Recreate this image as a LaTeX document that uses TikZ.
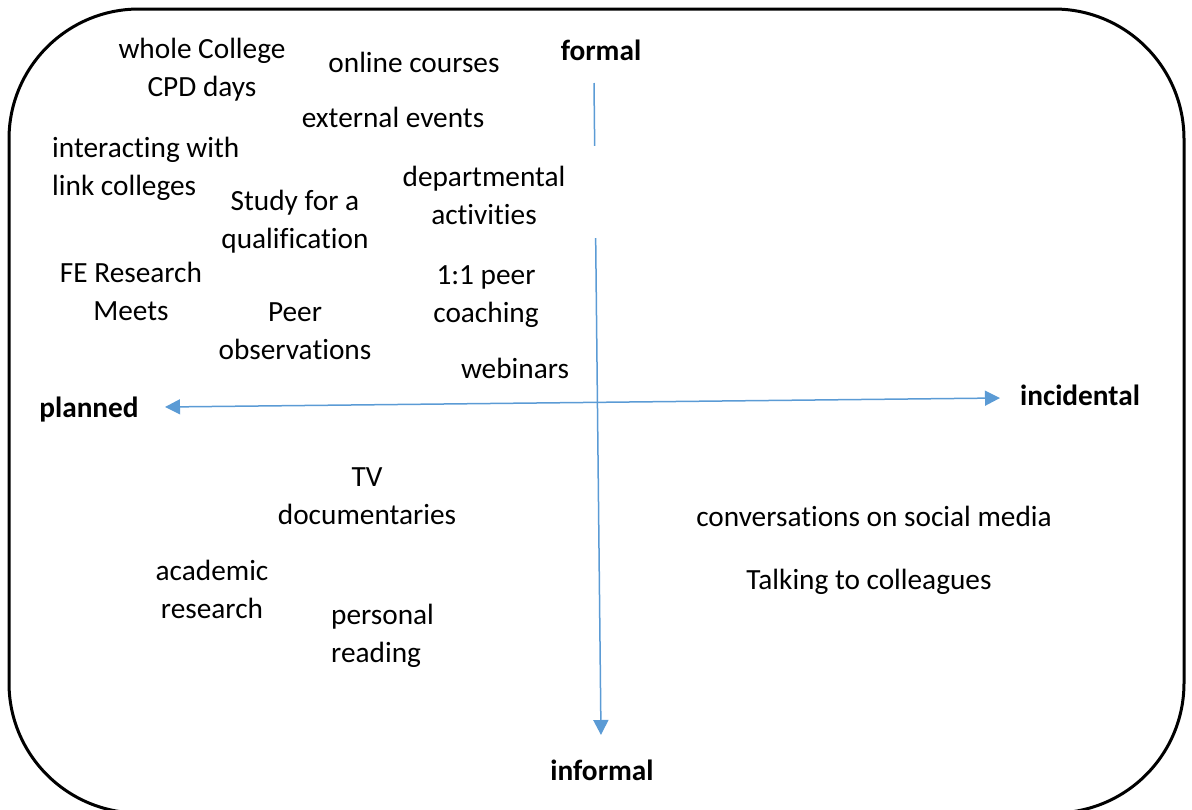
\documentclass[tikz,border=0pt]{standalone}
\usepackage{fontspec}
\setmainfont[Ligatures=NoCommon]{Carlito}
\usetikzlibrary{arrows.meta}
\definecolor{axisblue}{RGB}{91,155,213}
\begin{document}
\begin{tikzpicture}[x=1pt,y=-1pt,
  >={Triangle[length=15pt,width=15pt]},
  lbl/.style={font=\fontsize{29.3}{38}\selectfont, inner sep=0pt, align=center, anchor=base},
  lbll/.style={lbl, align=left, anchor=base west},
  pole/.style={lbl, font=\fontsize{29.3}{38}\selectfont\bfseries},
  axis/.style={draw=axisblue, line width=1.5pt}]
\useasboundingbox (0,0) rectangle (1192,809);
\draw[line width=3pt, rounded corners=130pt] (9,9) rectangle (1184,813);
% axes
\coordinate (vtop) at (594,83);
\coordinate (vbot) at (601,735);
\coordinate (hleft) at (165,407);
\coordinate (hright) at (1000,398);
\draw[axis, ->] (vtop) -- (vbot);
\draw[axis, <->] (hleft) -- (hright);
\fill[white] (586,146) rectangle (610,238);
% poles
\node[pole] (formal) at (601,60) {formal};
\node[pole] (informal) at (602,780) {informal};
\node[pole] (planned) at (89,417) {planned};
\node[pole] (incidental) at (1080,405) {incidental};
% items (multi-line nodes: base = last line)
\node[lbl] (cpd) at (202,96) {whole College\\CPD days};
\node[lbl] (online) at (414,72) {online courses};
\node[lbl] (external) at (393,127) {external events};
\node[lbll] (link) at (52,195) {interacting with\\link colleges};
\node[lbl] (study) at (295,248) {Study for a\\qualification};
\node[lbl] (dept) at (484,224) {departmental\\activities};
\node[lbl] (fe) at (131,320) {FE Research\\Meets};
\node[lbl] (coach) at (486,322) {1:1 peer\\coaching};
\node[lbl] (peer) at (295,359) {Peer\\observations};
\node[lbl] (webinars) at (515,378) {webinars};
\node[lbl] (tv) at (367,524) {TV\\documentaries};
\node[lbl] (social) at (874,526) {conversations on social media};
\node[lbl] (talking) at (869,589) {Talking to colleagues};
\node[lbl] (academic) at (212,618) {academic\\research};
\node[lbll] (reading) at (331,662) {personal\\reading};
\end{tikzpicture}
\end{document}
